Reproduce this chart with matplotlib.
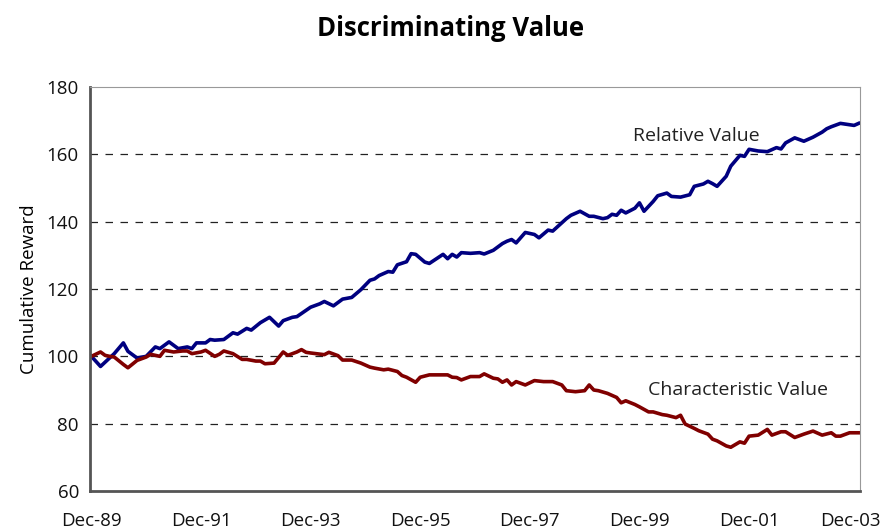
import matplotlib.pyplot as plt
import matplotlib.transforms as mtransforms

# month offsets from Dec-89 and values
rel_month = [0, 2, 5, 7, 8, 10, 12, 14, 15, 17, 19, 21, 22, 23, 25, 26, 27, 29, 31, 32,
             34, 35, 37, 39, 41, 42, 44, 45, 48, 50, 51, 53, 55, 57, 59, 61, 62, 63, 65, 66,
             67, 69, 70, 71, 73, 74, 75, 77, 78, 79, 80, 81, 83, 85, 86, 88, 90, 91, 92, 93,
             95, 97, 98, 100, 101, 104, 105, 107, 109, 110, 112, 113, 114, 115, 116, 117, 119, 120, 121, 123,
             124, 126, 127, 129, 131, 132, 134, 135, 136, 137, 139, 140, 142, 143, 144, 146, 148, 150, 151, 152,
             154, 156, 158, 160, 161, 162, 164, 165, 167, 168]
rel_value = [100, 97, 100.8, 104, 101.5, 99.5, 100, 102.8, 102.3, 104.3, 102.3, 102.8, 102.3, 104, 104, 105, 104.8, 105, 107, 106.6,
             108.3, 107.8, 110, 111.6, 109, 110.6, 111.6, 111.8, 114.6, 115.6, 116.3, 115, 117, 117.5, 119.8, 122.6, 123, 124, 125.2, 125,
             127.2, 128.1, 130.5, 130.3, 128, 127.6, 128.5, 130.3, 129, 130.3, 129.5, 130.8, 130.6, 130.8, 130.4, 131.5, 133.5, 134.2, 134.7, 133.7,
             136.8, 136.2, 135.2, 137.5, 137.2, 140.9, 141.9, 143.1, 141.6, 141.6, 140.9, 141.2, 142.2, 141.9, 143.4, 142.6, 144, 145.6, 143.1, 146,
             147.7, 148.5, 147.5, 147.3, 148, 150.5, 151.2, 152, 151.3, 150.5, 153.5, 156.5, 159.7, 159.4, 161.5, 161, 160.8, 162, 161.6, 163.4,
             164.9, 163.9, 165.1, 166.6, 167.6, 168.2, 169.2, 169, 168.6, 169.2]

char_month = [0, 2, 3, 4, 5, 7, 8, 10, 12, 13, 15, 16, 18, 20, 21, 22, 24, 25, 27, 28,
              29, 31, 33, 34, 36, 37, 38, 40, 42, 43, 45, 46, 47, 48, 51, 52, 54, 55, 57, 59,
              61, 62, 64, 65, 67, 68, 69, 71, 72, 74, 76, 78, 79, 80, 81, 83, 85, 86, 88, 89,
              90, 91, 92, 93, 95, 97, 99, 101, 103, 104, 106, 108, 109, 110, 111, 113, 115, 116, 117, 119,
              120, 122, 123, 125, 126, 128, 129, 130, 132, 133, 135, 136, 137, 139, 140, 142, 143, 144, 146, 148,
              149, 151, 152, 154, 156, 158, 160, 162, 163, 164, 166, 168]
char_value = [100, 101.3, 100.3, 100, 99.8, 97.6, 96.6, 98.8, 99.8, 100.6, 100, 101.8, 101.3, 101.6, 101.6, 100.8, 101.3, 101.8, 100, 100.6,
              101.6, 100.8, 99.1, 99.1, 98.6, 98.6, 97.8, 98, 101.3, 100.3, 101.3, 102, 101.2, 101, 100.5, 101.2, 100.2, 98.9, 98.9, 98,
              96.8, 96.5, 96, 96.2, 95.5, 94.3, 93.8, 92.3, 93.8, 94.5, 94.5, 94.5, 93.8, 93.7, 93, 94, 94, 94.8, 93.5, 93.3,
              92.3, 93, 91.5, 92.5, 91.5, 92.8, 92.5, 92.5, 91.5, 89.8, 89.5, 89.8, 91.5, 90, 89.8, 89, 87.8, 86.2, 86.8, 85.7,
              85, 83.5, 83.5, 82.7, 82.5, 81.8, 82.5, 79.9, 78.6, 77.9, 76.9, 75.4, 74.9, 73.4, 73, 74.6, 74.2, 76.3, 76.6, 78.3,
              76.6, 77.6, 77.6, 75.9, 76.9, 77.8, 76.6, 77.3, 76.3, 76.3, 77.3, 77.3]

tick_months = [0, 24, 48, 72, 96, 120, 144, 168]
tick_labels = ['Dec-89', 'Dec-91', 'Dec-93', 'Dec-95', 'Dec-97', 'Dec-99', 'Dec-01', 'Dec-03']

plt.rcParams['font.family'] = ['Open Sans', 'DejaVu Sans']

fig = plt.figure(figsize=(8.86, 5.29), dpi=100)
ax = fig.add_axes([0.1016, 0.0718, 0.8691, 0.7637])

ax.plot(rel_month, rel_value, color='#000080', linewidth=2.6, solid_joinstyle='round')
ax.plot(char_month, char_value, color='#800000', linewidth=2.6, solid_joinstyle='round')

ax.set_xlim(-0.3, 168.3)
ax.set_ylim(60, 180)
ax.set_yticks([60, 80, 100, 120, 140, 160, 180])
ax.set_xticks(tick_months)
ax.set_xticklabels(tick_labels)
ax.tick_params(length=0, labelsize=13.5, colors='#111111')
ax.tick_params(axis='x', pad=15)
ax.tick_params(axis='y', pad=8)

# the last date label sits a little left so it stays inside the figure
last = ax.get_xticklabels()[-1]
last.set_transform(last.get_transform() + mtransforms.ScaledTranslation(-8 / 100, 0, fig.dpi_scale_trans))

for v in [80, 100, 120, 140, 160]:
    ax.axhline(v, color='#222222', linewidth=0.9, linestyle=(0, (6, 6)), zorder=0)

ax.spines['left'].set_color('#555555')
ax.spines['left'].set_linewidth(2)
ax.spines['bottom'].set_color('#555555')
ax.spines['bottom'].set_linewidth(2)
ax.spines['top'].set_color('#999999')
ax.spines['right'].set_color('#999999')

ax.set_ylabel('Cumulative Reward', fontsize=13.5, labelpad=6)
fig.text(0.509, 0.947, 'Discriminating Value', ha='center', va='center',
         fontsize=18.5, fontweight='bold')

ax.text(132.5, 165.6, 'Relative Value', ha='center', va='center', fontsize=14, color='#222222')
ax.text(141.6, 90, 'Characteristic Value', ha='center', va='center', fontsize=14, color='#222222')

fig.savefig('out.png', dpi=100)
